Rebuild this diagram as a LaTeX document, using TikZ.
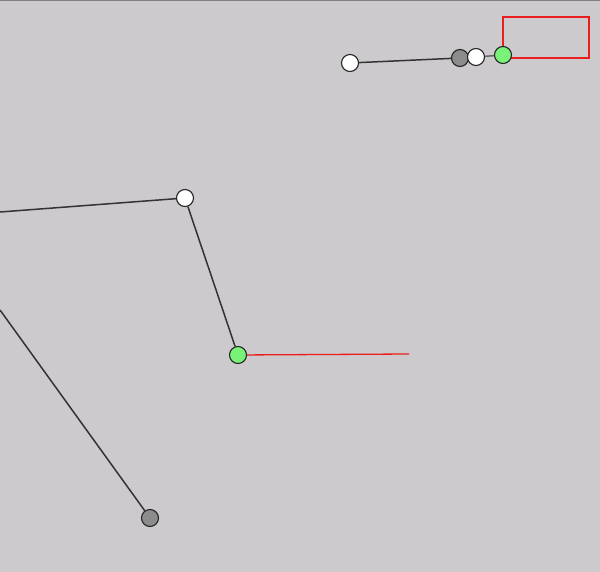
\documentclass[tikz,border=0pt]{standalone}
\begin{document}
\begin{tikzpicture}[x=1pt,y=-1pt,
  dot/.style={circle,draw=black!85,line width=1.1pt,minimum size=17pt,inner sep=0pt},
  wdot/.style={dot,fill=white},
  gdot/.style={dot,fill=black!45},
  grdot/.style={dot,fill=green!50!white!95!black},
  link/.style={draw=black!80,line width=1.5pt},
  redline/.style={draw=rd,line width=1.3pt}]
\definecolor{bg}{RGB}{204,202,204}
\definecolor{rd}{RGB}{235,30,30}
\fill[bg] (0,0) rectangle (600,572);
\useasboundingbox (0,0) rectangle (600,572);
\draw[black!50,line width=2pt] (0,0.5) -- (600,0.5);
% coordinates
\coordinate (L1) at (0,212);
\coordinate (L2) at (0,310);
\coordinate (R1) at (409,354);
% top cluster
\draw[redline] (503,17) rectangle (589,58);
\node[wdot] (A) at (350,63) {};
\node[gdot] (B) at (460,58) {};
\node[wdot] (C) at (476,57) {};
\node[grdot] (D) at (503,55) {};
\draw[link] (A) -- (B);
\draw[link,draw=black!60] (C) -- (D);
% middle
\node[wdot] (E) at (185,198) {};
\node[grdot] (F) at (238,355) {};
\node[gdot] (G) at (150,518) {};
\draw[link] (L1) -- (E);
\draw[link] (E) -- (F);
\draw[redline] (F) -- (R1);
\draw[link] (L2) -- (G);
\end{tikzpicture}
\end{document}
